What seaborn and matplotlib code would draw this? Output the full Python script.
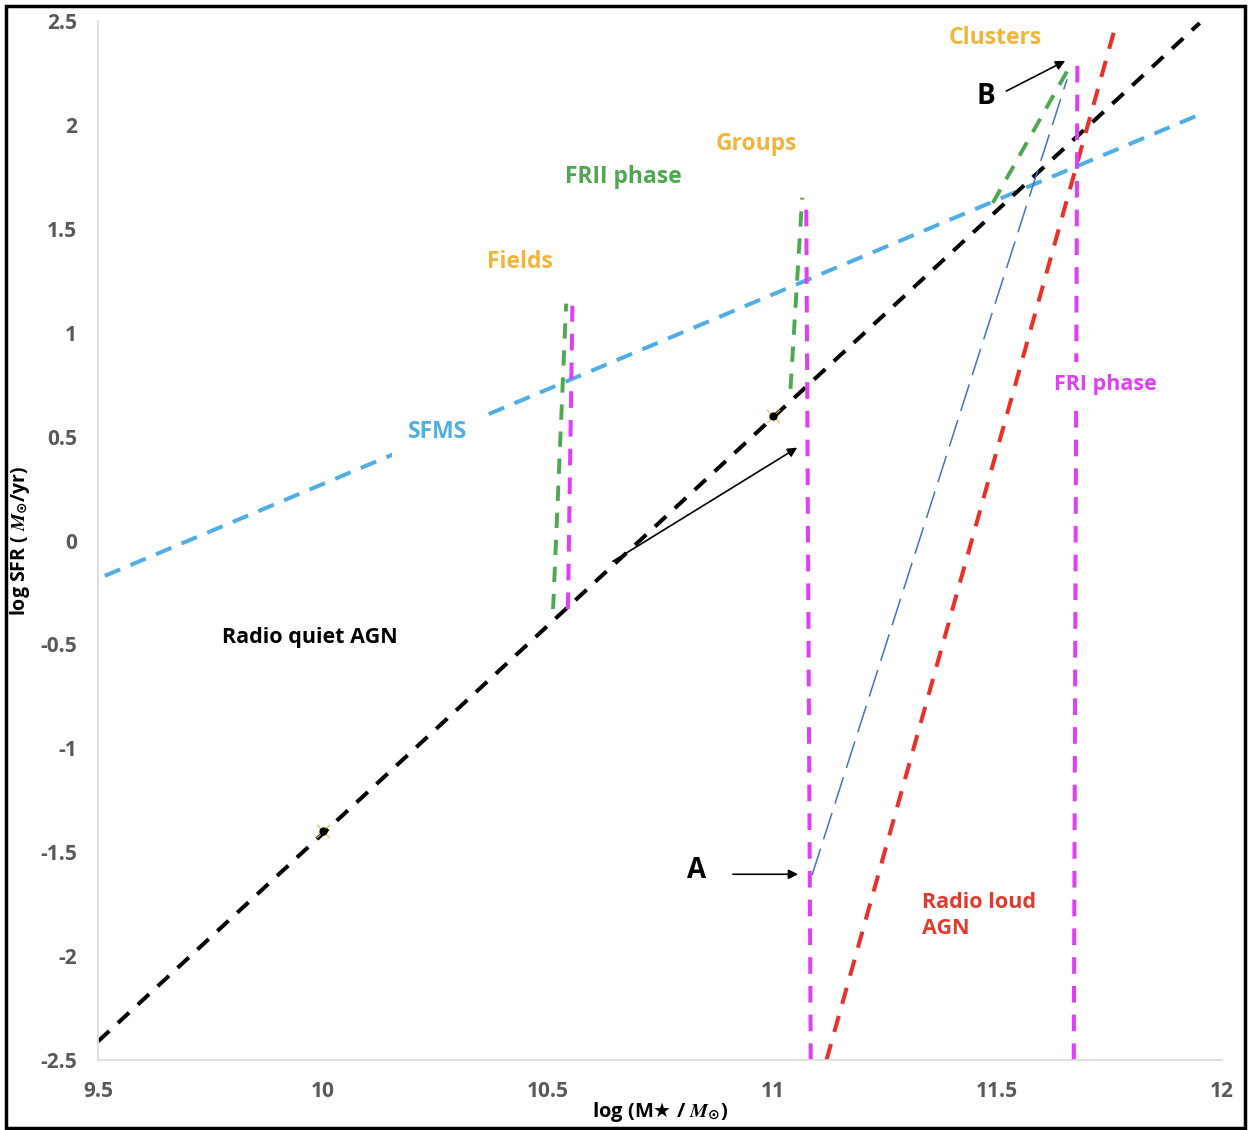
import matplotlib
matplotlib.use('Agg')
import matplotlib.pyplot as plt
import seaborn as sns
import pandas as pd
from matplotlib.patches import Rectangle

# values: x = log(M*/Msun), y = log SFR
rq_mass = [9.5, 11.95]          # black: radio quiet AGN relation
rq_sfr = [-2.41, 2.49]
sfms_mass = [9.515, 11.95]      # star forming main sequence
sfms_sfr = [-0.17, 2.05]
rl_mass = [11.12, 11.766]       # red: radio loud AGN
rl_sfr = [-2.5, 2.5]
path_mass = [11.088, 11.655]    # thin blue: A -> B track
path_sfr = [-1.61, 2.22]
fri_mass = [[10.545, 10.555], [11.085, 11.075], [11.670, 11.678]]
fri_sfr = [[-0.33, 1.13], [-2.5, 1.64], [-2.5, 2.30]]
frii_mass = [[10.512, 10.541], [11.04, 11.066], [11.49, 11.666]]
frii_sfr = [[-0.33, 1.14], [0.73, 1.65], [1.625, 2.30]]
pts_mass = [10.0, 11.0]
pts_sfr = [-1.4, 0.6]

arrow_from = [(10.645, -0.10), (10.912, -1.606), (11.52, 2.163)]
arrow_to = [(11.055, 0.447), (11.057, -1.606), (11.651, 2.308)]

x_ticks = [9.5, 10, 10.5, 11, 11.5, 12]
y_ticks = [-2.5, -2, -1.5, -1, -0.5, 0, 0.5, 1, 1.5, 2, 2.5]
tick_fmt = lambda v: ('%g' % v)

GOLD = '#F2B53C'
labels = [
    ('Clusters', 11.496, 2.418, GOLD, 16.5, 'center'),
    ('Groups', 10.964, 1.909, GOLD, 16.5, 'center'),
    ('Fields', 10.439, 1.341, GOLD, 16.5, 'center'),
    ('FRII phase', 10.668, 1.75, '#4EA84F', 16.5, 'center'),
    ('Radio quiet AGN', 9.97, -0.466, 'black', 15.5, 'center'),
    ('B', 11.475, 2.135, 'black', 20, 'center'),
    ('A', 10.832, -1.59, 'black', 20, 'center'),
    ('Radio loud\nAGN', 11.333, -1.805, '#E33A2E', 15.5, 'left'),
]

sns.set_theme(style='white')
plt.rcParams['font.family'] = ['Open Sans', 'DejaVu Sans']
plt.rcParams['font.weight'] = 'bold'
# math: serif italic letters, symbols (star, odot) from DejaVu Sans
plt.rcParams['mathtext.fontset'] = 'custom'
plt.rcParams['mathtext.rm'] = 'DejaVu Sans'
plt.rcParams['mathtext.it'] = 'STIXGeneral:italic'
plt.rcParams['mathtext.bf'] = 'DejaVu Sans:bold'
plt.rcParams['mathtext.fallback'] = 'stix'
plt.rcParams['lines.scale_dashes'] = False

fig = plt.figure(figsize=(12.49, 11.30), dpi=100)
ax = fig.add_axes([0.0785, 0.0619, 0.9, 0.9195])


def dashed(x, y, color, lw, dash):
    d = pd.DataFrame({'m': x, 's': y})
    sns.lineplot(data=d, x='m', y='s', ax=ax, color=color, linewidth=lw,
                 sort=False, estimator=None, linestyle=(0, dash), zorder=2)


dashed(sfms_mass, sfms_sfr, '#4FAEE6', 2.9, (12, 8))
dashed(rq_mass, rq_sfr, 'black', 2.9, (11, 8.5))
dashed(rl_mass, rl_sfr, '#E8312A', 2.9, (12, 9))
dashed(path_mass, path_sfr, '#4472C4', 1.1, (20, 7))
for xm, ys in zip(frii_mass, frii_sfr):
    dashed(xm, ys, '#4EA84F', 2.8, (11, 8.5))
for xm, ys in zip(fri_mass, fri_sfr):
    dashed(xm, ys, '#E040F5', 2.9, (12, 8.7))

sns.scatterplot(x=pts_mass, y=pts_sfr, ax=ax, marker='x', color='#E8B84A',
                s=90, linewidth=0.8, zorder=3)
sns.scatterplot(x=pts_mass, y=pts_sfr, ax=ax, color='black', s=35,
                linewidth=0, zorder=4)

for (x0, y0), (x1, y1) in zip(arrow_from, arrow_to):
    ax.annotate('', xy=(x1, y1), xytext=(x0, y0),
                arrowprops=dict(arrowstyle='-|>', color='black', lw=1.2,
                                mutation_scale=14, shrinkA=0, shrinkB=0), zorder=5)

for txt, x, y, c, fs, ha in labels:
    ax.text(x, y, txt, color=c, fontsize=fs, fontweight='bold', ha=ha,
            va='center', linespacing=1.3, zorder=6)

# labels that sit on top of a line and blank it out
ax.text(10.256, 0.524, 'SFMS', color='#4FAEE6', fontsize=16.5, fontweight='bold',
        ha='center', va='center', zorder=6,
        bbox=dict(facecolor='white', edgecolor='none', pad=12))
ax.text(11.74, 0.75, 'FRI phase', color='#E040F5', fontsize=15.5, fontweight='bold',
        ha='center', va='center', zorder=6,
        bbox=dict(facecolor='white', edgecolor='none', pad=9))

ax.set_xlim(9.5, 12)
ax.set_ylim(-2.5, 2.5)
ax.set_xticks(x_ticks)
ax.set_xticklabels([tick_fmt(v) for v in x_ticks])
ax.set_yticks(y_ticks)
ax.set_yticklabels([tick_fmt(v) for v in y_ticks])
ax.tick_params(axis='both', length=0, labelsize=15, labelcolor='#595959')
ax.tick_params(axis='y', pad=15)
ax.tick_params(axis='x', pad=15)
for t in ax.get_xticklabels() + ax.get_yticklabels():
    t.set_fontweight('bold')

sns.despine(ax=ax)
for side in ['left', 'bottom']:
    ax.spines[side].set_color('#D9D9D9')
    ax.spines[side].set_linewidth(1.2)

ax.set_xlabel('log (M$\\mathrm{\\bigstar}$ / $M_{\\odot}$)', fontsize=14.5,
              fontweight='bold', color='black', labelpad=-1)
ax.set_ylabel('log SFR ( $M_{\\odot}$/yr)', fontsize=14, fontweight='bold',
              color='black', labelpad=6)

fig.patches.append(Rectangle((0.005, 0.002), 0.992, 0.993, transform=fig.transFigure,
                             fill=False, edgecolor='black', linewidth=2.5))

fig.savefig('out.png', dpi=100)
